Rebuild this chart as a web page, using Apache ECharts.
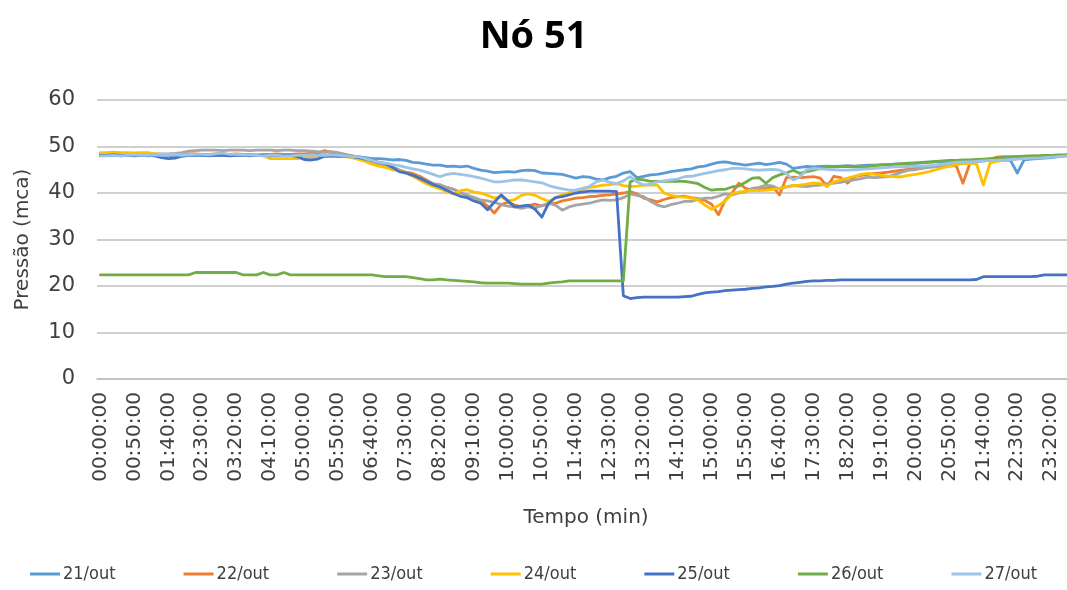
<!DOCTYPE html>
<html>
<head>
<meta charset="utf-8">
<script src="https://cdn.jsdelivr.net/npm/echarts@6/dist/echarts.min.js"></script>
<style>html,body{margin:0;padding:0;background:#fff;}#c{width:1067px;height:590px;}</style>
</head>
<body>
<div id="c"></div>
<script>
// Time categories every 10 minutes
const times = [];
for (let i = 0; i < 144; i++) {
  const t = i * 10, h = Math.floor(t / 60), m = t % 60;
  times.push(String(h).padStart(2, '0') + ':' + String(m).padStart(2, '0') + ':00');
}
const seriesNames = ['21/out', '22/out', '23/out', '24/out', '25/out', '26/out', '27/out'];
const yTicks = [0, 10, 20, 30, 40, 50, 60];

const s21 = [48.0,48.1,48.2,48.0,48.1,48.2,48.1,48.0,48.1,48.2,
48.1,48.0,48.1,48.2,48.2,48.1,48.0,48.1,48.2,48.3,
48.2,48.1,48.0,48.1,48.2,48.1,48.0,48.1,48.2,48.1,
48.0,48.1,48.2,48.2,48.1,48.0,48.2,48.0,47.8,47.6,
47.4,47.4,47.3,47.1,47.2,47.0,46.6,46.5,46.2,46.0,
46.0,45.7,45.8,45.6,45.8,45.3,44.9,44.7,44.4,44.5,
44.6,44.5,44.8,44.9,44.8,44.3,44.2,44.1,44.0,43.6,
43.2,43.5,43.4,43.0,42.8,43.3,43.6,44.3,44.6,43.3,
43.6,43.9,44.0,44.3,44.6,44.8,45.0,45.2,45.6,45.8,
46.2,46.6,46.7,46.4,46.2,46.0,46.2,46.4,46.1,46.3,
46.6,46.2,45.3,45.5,45.7,45.6,45.7,45.8,45.7,45.8,
45.9,45.8,45.9,46.0,46.0,46.1,46.1,46.2,46.2,46.3,
46.4,46.5,46.6,46.7,46.7,46.8,46.8,46.9,46.9,47.0,
46.9,47.0,47.0,47.0,47.0,44.3,47.1,47.3,47.4,47.5,
47.6,47.8,48.0,48.1];

const s22 = [48.3,48.4,48.3,48.2,48.3,48.4,48.3,48.2,48.3,48.3,
48.3,48.2,48.3,48.4,48.4,48.3,48.3,48.4,48.3,48.3,
48.4,48.3,48.3,48.2,48.3,48.3,48.4,48.3,48.3,48.4,
48.4,48.5,48.6,49.1,48.7,48.5,48.3,47.9,47.5,47.0,
46.5,46.3,46.0,45.6,44.9,44.5,44.2,43.6,42.8,42.0,
41.5,41.2,40.8,40.0,39.5,39.0,38.4,37.2,35.7,37.5,
38.0,37.4,37.0,37.3,37.6,37.2,37.6,37.8,38.3,38.6,
38.9,39.0,39.2,39.3,39.5,39.6,39.8,40.0,40.3,39.8,
38.9,38.5,38.1,38.6,39.0,39.2,39.3,39.0,38.8,38.4,
37.6,35.3,38.5,40.0,42.1,41.0,40.6,40.8,41.0,41.3,
39.6,43.3,43.4,43.3,43.4,43.5,43.2,41.4,43.6,43.3,
42.1,43.5,43.8,44.0,44.2,44.3,44.5,44.7,44.9,45.1,
45.3,45.4,45.6,45.7,45.8,45.8,45.9,42.1,46.3,46.7,
47.0,47.3,47.7,47.8,47.8,47.8,47.8,47.9,47.9,48.0,
48.0,48.1,48.1,48.2];

const s23 = [48.4,48.4,48.4,48.4,48.4,48.4,48.4,48.4,48.4,48.4,
48.4,48.5,48.7,49.0,49.1,49.2,49.2,49.2,49.1,49.2,
49.2,49.2,49.1,49.2,49.2,49.2,49.1,49.2,49.2,49.1,
49.1,49.0,48.9,48.8,48.9,48.7,48.3,48.0,47.6,47.2,
46.8,46.5,46.1,45.6,45.0,44.4,43.8,43.3,42.6,42.0,
41.8,41.2,40.8,40.1,39.5,39.0,38.5,38.3,38.0,37.5,
37.2,37.0,36.7,37.0,36.8,37.3,37.8,37.4,36.3,37.0,
37.4,37.6,37.8,38.2,38.5,38.4,38.5,39.0,39.8,39.5,
39.2,38.2,37.4,37.0,37.5,37.8,38.2,38.2,38.6,38.9,
38.9,39.3,39.8,39.6,40.0,40.3,41.0,41.2,41.7,41.5,
40.8,41.3,41.6,41.5,41.4,41.6,41.7,42.0,42.1,42.3,
42.6,42.8,43.1,43.4,43.3,43.4,43.5,44.0,44.5,44.9,
45.0,45.3,45.5,45.7,45.9,46.1,46.3,46.5,46.7,46.8,
46.9,47.0,47.1,47.2,47.3,47.4,47.5,47.6,47.7,47.8,
47.9,48.0,48.0,48.1];

const s24 = [48.7,48.7,48.8,48.7,48.7,48.6,48.7,48.7,48.4,48.3,
48.3,48.3,48.2,48.3,48.3,48.3,48.2,48.3,48.3,48.3,
48.3,48.2,48.3,48.3,48.0,47.4,47.4,47.4,47.4,47.4,
47.8,47.8,47.8,47.9,47.9,48.0,47.9,47.6,47.2,46.8,
46.2,45.8,45.5,45.0,44.8,44.3,43.6,42.8,42.0,41.4,
40.9,40.3,39.8,40.5,40.7,40.2,40.0,39.5,38.9,39.2,
38.3,38.6,39.5,39.8,39.5,38.8,38.2,39.0,39.6,40.0,
40.5,40.8,41.2,41.4,41.7,41.8,42.0,41.6,41.4,41.5,
41.7,41.7,41.7,40.0,39.5,39.2,39.1,38.9,38.5,37.4,
36.5,37.3,38.3,39.8,40.2,40.4,40.6,40.5,40.6,40.8,
41.0,41.3,41.6,41.7,41.9,42.2,42.0,41.5,42.4,42.8,
43.2,43.6,44.0,44.2,44.0,43.8,43.6,43.5,43.5,43.8,
44.0,44.3,44.6,45.0,45.4,45.8,46.1,46.3,46.4,46.3,
41.7,46.5,46.8,47.0,47.2,47.4,47.6,47.7,47.8,47.9,
48.0,48.0,48.1,48.2];

const s25 = [48.1,48.1,48.2,48.1,48.1,48.0,48.1,48.1,48.0,47.6,
47.4,47.5,47.9,48.1,48.1,48.2,48.1,48.1,48.1,48.0,
48.1,48.1,48.2,48.1,48.1,48.0,48.1,48.1,48.1,47.8,
47.2,47.1,47.3,47.9,48.0,47.9,47.9,47.8,47.6,47.3,
47.0,46.6,46.3,45.5,44.6,44.3,43.8,43.2,42.5,41.8,
41.3,40.6,39.9,39.3,39.0,38.3,37.8,36.4,38.0,39.6,
38.3,37.0,37.2,37.4,36.5,34.8,37.8,39.0,39.2,39.6,
40.0,40.2,40.4,40.4,40.4,40.4,40.3,17.9,17.3,17.5,
17.6,17.6,17.6,17.6,17.6,17.6,17.7,17.8,18.2,18.5,
18.7,18.8,19.0,19.1,19.2,19.3,19.5,19.6,19.8,19.9,
20.1,20.4,20.6,20.8,21.0,21.1,21.1,21.2,21.2,21.3,
21.3,21.3,21.3,21.3,21.3,21.3,21.3,21.3,21.3,21.3,
21.3,21.3,21.3,21.3,21.3,21.3,21.3,21.3,21.3,21.4,
22.0,22.0,22.0,22.0,22.0,22.0,22.0,22.0,22.1,22.4,
22.4,22.4,22.4,22.4];

const s26 = [22.4,22.4,22.4,22.4,22.4,22.4,22.4,22.4,22.4,22.4,
22.4,22.4,22.4,22.4,22.9,22.9,22.9,22.9,22.9,22.9,
22.9,22.4,22.4,22.4,22.9,22.4,22.4,22.9,22.4,22.4,
22.4,22.4,22.4,22.4,22.4,22.4,22.4,22.4,22.4,22.4,
22.4,22.2,22.0,22.0,22.0,22.0,21.8,21.6,21.3,21.3,
21.5,21.3,21.2,21.1,21.0,20.9,20.7,20.6,20.6,20.6,
20.6,20.5,20.4,20.4,20.4,20.4,20.6,20.8,20.9,21.1,
21.1,21.1,21.1,21.1,21.1,21.1,21.1,21.1,42.4,43.0,
42.8,42.5,42.5,42.5,42.5,42.5,42.5,42.3,42.0,41.2,
40.6,40.8,40.8,41.3,41.5,42.3,43.2,43.3,42.1,43.3,
43.9,44.3,44.9,44.2,44.6,44.9,45.3,45.6,45.7,45.7,
45.7,45.7,45.7,45.7,45.9,46.0,46.1,46.2,46.3,46.4,
46.5,46.6,46.7,46.8,46.9,47.0,47.0,47.1,47.1,47.2,
47.3,47.4,47.5,47.6,47.7,47.8,47.9,48.0,48.0,48.1,
48.1,48.2,48.2,48.3];

const s27 = [48.0,48.0,48.1,48.0,48.1,48.2,48.1,48.1,48.2,48.1,
48.2,48.2,48.1,48.2,48.3,48.3,48.2,48.4,48.6,48.3,
48.3,48.2,48.2,48.1,48.0,48.1,48.1,48.0,48.0,48.1,
48.1,48.2,48.1,48.1,48.2,48.1,48.0,47.8,47.8,47.4,
47.0,46.6,46.4,46.1,45.9,45.5,45.2,44.9,44.5,44.0,
43.5,44.0,44.2,44.0,43.8,43.5,43.2,42.8,42.4,42.4,
42.6,42.8,42.8,42.6,42.4,42.2,41.6,41.2,40.9,40.6,
40.6,41.0,41.4,42.4,42.8,42.3,42.0,42.6,43.5,42.4,
41.7,41.9,42.4,42.6,42.8,43.0,43.5,43.6,43.9,44.2,
44.5,44.8,45.0,45.3,45.3,45.2,45.0,44.9,45.0,45.1,
44.9,44.2,42.8,43.5,45.0,45.3,45.2,45.1,45.0,44.9,
44.9,45.0,45.1,45.2,45.3,45.4,45.5,45.6,45.7,45.7,
45.8,45.8,45.9,46.0,46.2,46.4,46.6,46.7,46.7,46.8,
46.9,47.0,47.0,47.1,47.2,47.3,47.4,47.5,47.5,47.6,
47.7,47.8,47.9,48.0];

const seriesData = [s21, s22, s23, s24, s25, s26, s27];
const colors = ['#5B9BD5', '#ED7D31', '#A5A5A5', '#FFC000', '#4472C4', '#70AD47', '#9DC3E6'];

const chart = echarts.init(document.getElementById('c'), null, {renderer: 'canvas'});
const font = "'DejaVu Sans', 'Open Sans', sans-serif";
chart.setOption({
  animation: false,
  backgroundColor: '#ffffff',
  color: colors,
  title: {
    text: 'Nó 51', left: 'center', top: 13,
    textStyle: {fontFamily: "'Open Sans', sans-serif", fontSize: 38, fontWeight: 'bold', color: '#000'}
  },
  legend: {
    data: seriesNames, bottom: 2, left: 25,
    icon: 'rect', itemWidth: 30, itemHeight: 3, itemGap: 68,
    textStyle: {fontFamily: "'DejaVu Sans Condensed', 'Open Sans', sans-serif", fontSize: 18, color: '#404040', padding: [0, 0, 0, -2]}
  },
  grid: {left: 97, right: -8, top: 100, bottom: 211, outerBoundsMode: 'none', containLabel: false},
  xAxis: {
    type: 'category', data: times, boundaryGap: true,
    name: 'Tempo (min)', nameLocation: 'middle', nameGap: 129,
    nameTextStyle: {fontFamily: font, fontSize: 20, color: '#404040'},
    axisTick: {show: false},
    axisLine: {lineStyle: {color: '#BFBFBF', width: 1.5}},
    axisLabel: {interval: 4, rotate: 90, margin: 13, fontFamily: font, fontSize: 20, color: '#404040'},
    splitLine: {show: false}
  },
  yAxis: {
    type: 'value', min: 0, max: 60, interval: 10,
    name: 'Pressão (mca)', nameLocation: 'middle', nameGap: 64,
    nameTextStyle: {fontFamily: font, fontSize: 20, color: '#404040'},
    axisLine: {show: false}, axisTick: {show: false},
    axisLabel: {margin: 22, fontFamily: font, fontSize: 21, color: '#404040',
      formatter: v => yTicks.includes(v) ? String(v) : ''},
    splitLine: {lineStyle: {color: '#BFBFBF', width: 1.5}}
  },
  series: seriesNames.map((n, k) => ({
    name: n, type: 'line', data: seriesData[k], showSymbol: false, symbol: 'none',
    lineStyle: {width: 2.8, color: colors[k], join: 'round', cap: 'round'},
    itemStyle: {color: colors[k]}
  }))
});
</script>
</body>
</html>
